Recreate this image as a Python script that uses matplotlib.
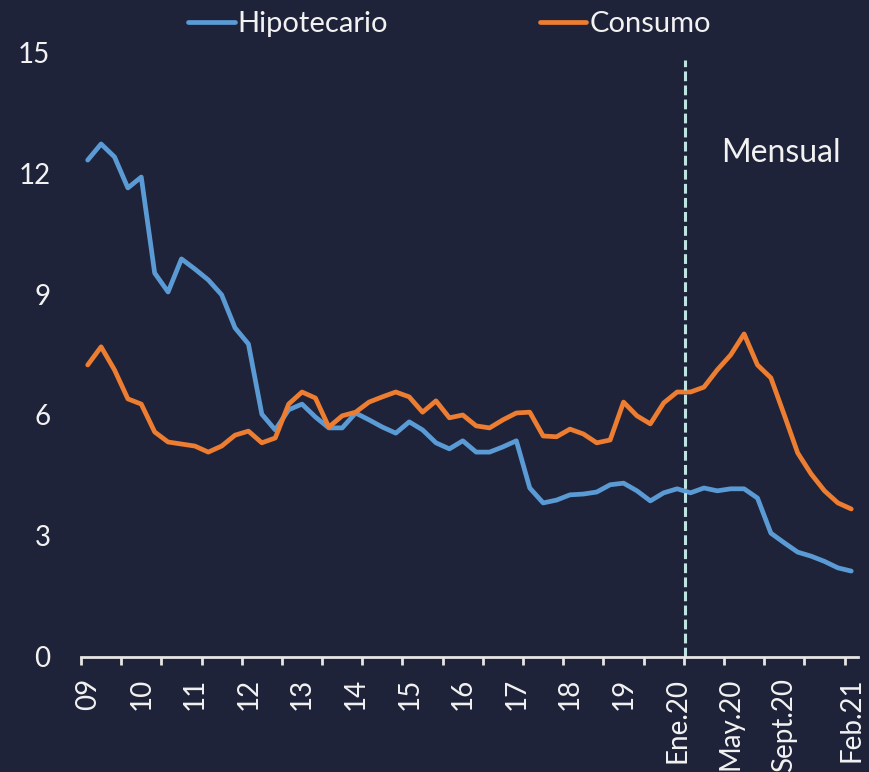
import matplotlib
matplotlib.use("Agg")
import matplotlib.pyplot as plt
import numpy as np

# Datos: trimestral 2009-2019, mensual Ene.20 - Feb.21
hipotecario = [12.32, 12.72, 12.40, 11.63, 11.90, 9.52, 9.05, 9.87, 9.62, 9.35,
               8.98, 8.16, 7.76, 6.02, 5.63, 6.13, 6.27, 5.95, 5.68, 5.68,
               6.05, 5.88, 5.70, 5.55, 5.83, 5.63, 5.31, 5.16, 5.36, 5.08,
               5.08, 5.21, 5.36, 4.19, 3.82, 3.89, 4.02, 4.04, 4.09, 4.27,
               4.31, 4.12, 3.87, 4.07, 4.17, 4.07, 4.19, 4.12, 4.17, 4.17,
               3.94, 3.07, 2.83, 2.60, 2.50, 2.37, 2.21, 2.13]
consumo = [7.24, 7.69, 7.12, 6.40, 6.27, 5.58, 5.33, 5.28, 5.23, 5.08,
           5.23, 5.50, 5.60, 5.31, 5.43, 6.27, 6.57, 6.42, 5.70, 5.98,
           6.07, 6.32, 6.45, 6.57, 6.45, 6.07, 6.35, 5.93, 6.00, 5.73,
           5.68, 5.88, 6.05, 6.07, 5.48, 5.46, 5.65, 5.53, 5.31, 5.38,
           6.32, 5.98, 5.78, 6.30, 6.57, 6.57, 6.69, 7.12, 7.49, 8.01,
           7.24, 6.92, 6.00, 5.06, 4.54, 4.12, 3.82, 3.67]
x_labels = ["09", "10", "11", "12", "13", "14", "15", "16", "17", "18", "19",
            "Ene.20", "May.20", "Sept.20", "Feb.21"]
x_label_idx = [0, 4, 8, 12, 16, 20, 24, 28, 32, 36, 40, 44, 48, 52, 57]
y_ticks = [0, 3, 6, 9, 12, 15]

bg = "#1f2339"
fg = "#f2f2f2"
azul = "#5b9bd5"
naranja = "#ed7d31"

plt.rcParams["font.family"] = ["Lato", "DejaVu Sans"]

fig = plt.figure(figsize=(8.69, 7.72), dpi=100, facecolor=bg)
ax = fig.add_axes([0.0932, 0.149, 0.8941, 0.7836], facecolor=bg)

x = np.arange(len(hipotecario))
ax.plot(x, hipotecario, color=azul, lw=3.4, label="Hipotecario", solid_capstyle="round")
ax.plot(x, consumo, color=naranja, lw=3.4, label="Consumo", solid_capstyle="round")

# linea divisoria entre trimestral y mensual
ax.plot([44.6, 44.6], [0, 14.8], color="#bfe3e0", lw=2.2, linestyle=(0, (3.2, 1.4)))
ax.text(47.3, 12.5, "Mensual", color=fg, fontsize=23, ha="left", va="center")

ax.set_xlim(-0.5, len(hipotecario) - 0.5)
ax.set_ylim(0, 15)
ax.set_yticks(y_ticks)
ax.set_yticklabels([str(v) for v in y_ticks])
ax.set_xticks(x_label_idx)
ax.set_xticklabels(x_labels, rotation=90, ha="center", va="top")
ax.set_xticks(np.arange(-0.5, len(hipotecario), 3), minor=True)

for s in ["top", "right", "left"]:
    ax.spines[s].set_visible(False)
ax.spines["bottom"].set_color("#e6e6e6")
ax.spines["bottom"].set_linewidth(2)

ax.tick_params(axis="y", length=0, pad=22, labelsize=20, labelcolor=fg)
ax.tick_params(axis="x", which="major", length=0, pad=15, labelsize=20, labelcolor=fg)
ax.tick_params(axis="x", which="minor", length=6, width=2, color="#e6e6e6")

leg = fig.legend(loc="center", bbox_to_anchor=(0.517, 0.969), ncol=2, frameon=False,
                 fontsize=21, handlelength=1.6, handletextpad=0.1, columnspacing=5.2)
for t in leg.get_texts():
    t.set_color(fg)

fig.savefig("out.png", dpi=100, facecolor=bg)
